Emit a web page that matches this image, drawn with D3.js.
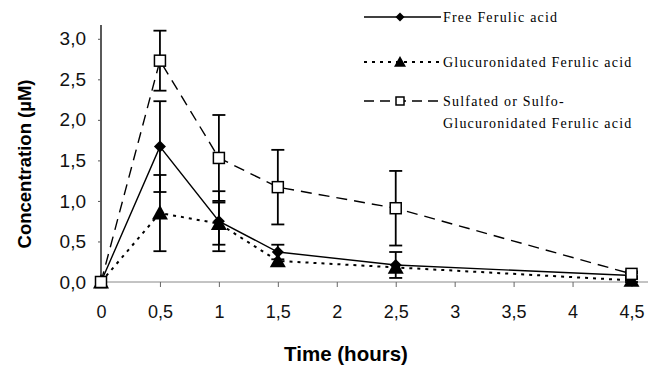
<!DOCTYPE html>
<html><head><meta charset="utf-8">
<script src="https://cdn.jsdelivr.net/npm/d3@7"></script>
<style>body{margin:0;background:#fff}svg{display:block}</style>
</head><body><svg id="c" width="650" height="366"></svg>
<script>
const times = [0, 0.5, 1, 1.5, 2.5, 4.5];
const freeVals = [0, 1.67, 0.75, 0.37, 0.21, 0.08];
const freeErr = [0, 0.56, 0.37, 0.09, 0.16, 0.03];
const glucVals = [0, 0.85, 0.72, 0.26, 0.18, 0.02];
const glucErr = [0, 0.47, 0.26, 0.0, 0.0, 0.02];
const sulfVals = [0, 2.73, 1.53, 1.17, 0.91, 0.1];
const sulfErr = [0, 0.37, 0.53, 0.46, 0.46, 0.03];
const xTicks = [0, 0.5, 1, 1.5, 2, 2.5, 3, 3.5, 4, 4.5];
const yTicks = [0, 0.5, 1, 1.5, 2, 2.5, 3];
const legendLabels = [["Free Ferulic acid"], ["Glucuronidated Ferulic acid"], ["Sulfated or Sulfo-", "Glucuronidated Ferulic acid"]];

const svg = d3.select("#c");
const x = d3.scaleLinear().domain([0, 4.64]).range([101, 648]);
const y = d3.scaleLinear().domain([0, 3.17]).range([282, 25]);
const fmt = d => d3.format(".1f")(d).replace(".", ",");
const fmtx = d => String(d).replace(".", ",");

// y axis
const ya = svg.append("g").attr("transform", "translate(101,0)")
  .call(d3.axisLeft(y).tickValues(yTicks).tickFormat(fmt).tickSize(3).tickPadding(12));
ya.select(".domain").attr("stroke", "#000").attr("stroke-width", 1.3).attr("d", `M0,${y(3.17)}V${y(0)}`);
ya.selectAll(".tick line").attr("stroke", "#555");
ya.selectAll("text").attr("font-family", "Liberation Sans, Arial, sans-serif").attr("font-size", 19).attr("fill", "#111");

// x axis
const xa = svg.append("g").attr("transform", `translate(0,${y(0)})`)
  .call(d3.axisBottom(x).tickValues(xTicks).tickFormat(fmtx).tickSize(5).tickPadding(18));
xa.select(".domain").attr("stroke", "#888").attr("stroke-width", 1).attr("d", `M${x(0)},0H${x(4.64)}`);
xa.selectAll(".tick line").attr("stroke", "#666");
xa.selectAll("text").attr("font-family", "Liberation Sans, Arial, sans-serif").attr("font-size", 18).attr("fill", "#111");

// axis titles
svg.append("text").attr("transform", "translate(31,164) rotate(-90)").attr("text-anchor", "middle")
  .attr("font-family", "Liberation Sans, Arial, sans-serif").attr("font-weight", "bold").attr("font-size", 18.5)
  .text("Concentration (µM)");
svg.append("text").attr("x", 346).attr("y", 361).attr("text-anchor", "middle")
  .attr("font-family", "Liberation Sans, Arial, sans-serif").attr("font-weight", "bold").attr("font-size", 20.5)
  .text("Time (hours)");

const series = [
  {vals: freeVals, err: freeErr, dash: null, marker: "diamond"},
  {vals: glucVals, err: glucErr, dash: "3,5", marker: "triangle"},
  {vals: sulfVals, err: sulfErr, dash: "11,7", marker: "square"}
];

// error bars
series.forEach(s => {
  const g = svg.append("g");
  times.forEach((t, i) => {
    if (!s.err[i]) return;
    const cx = x(t), hi = y(s.vals[i] + s.err[i]), lo = y(Math.max(0, s.vals[i] - s.err[i]));
    g.append("line").attr("x1", cx).attr("x2", cx).attr("y1", hi).attr("y2", lo).attr("stroke", "#000").attr("stroke-width", 1.8);
    [hi, lo].forEach(yy => g.append("line").attr("x1", cx - 6.5).attr("x2", cx + 6.5).attr("y1", yy).attr("y2", yy).attr("stroke", "#000").attr("stroke-width", 1.8));
  });
});

const line = d3.line().x((d, i) => x(times[i])).y(d => y(d));
function drawMarker(g, type, cx, cy, small) {
  const k = small ? 0.75 : 1;
  if (type === "diamond") {
    const r = 6 * k;
    g.append("path").attr("d", `M${cx},${cy - r}L${cx + r},${cy}L${cx},${cy + r}L${cx - r},${cy}Z`).attr("fill", "#000");
  } else if (type === "triangle") {
    const w = 8 * k, h = 8 * k;
    g.append("path").attr("d", `M${cx},${cy - h}L${cx + w},${cy + h * 0.8}L${cx - w},${cy + h * 0.8}Z`).attr("fill", "#000");
  } else {
    const r = small ? 4 : 5.5;
    g.append("rect").attr("x", cx - r).attr("y", cy - r).attr("width", 2 * r).attr("height", 2 * r)
      .attr("fill", "#fff").attr("stroke", "#000").attr("stroke-width", 1.5);
  }
}
// draw order: triangles, free, squares on top
[1, 0, 2].forEach(si => {
  const s = series[si];
  const g = svg.append("g");
  g.append("path").datum(s.vals).attr("d", line).attr("fill", "none").attr("stroke", "#000")
    .attr("stroke-width", si === 1 ? 2 : 1.4).attr("stroke-dasharray", s.dash);
  s.vals.forEach((v, i) => drawMarker(g, s.marker, x(times[i]), y(v), false));
});

// legend
const lg = svg.append("g");
const rows = [17, 62, 101];
series.forEach((s, i) => {
  lg.append("line").attr("x1", 364).attr("x2", 441).attr("y1", rows[i]).attr("y2", rows[i])
    .attr("stroke", "#000").attr("stroke-width", i === 1 ? 2 : 1.4).attr("stroke-dasharray", i === 0 ? null : (i === 1 ? "3,5" : "10,6"));
  drawMarker(lg, s.marker, 400, rows[i], true);
  legendLabels[i].forEach((t, j) => {
    lg.append("text").attr("x", 443).attr("y", rows[i] + 5 + j * 22)
      .attr("font-family", "Liberation Serif, Times New Roman, serif").attr("font-size", 14)
      .attr("letter-spacing", 1.2).text(t);
  });
});
</script></body></html>
